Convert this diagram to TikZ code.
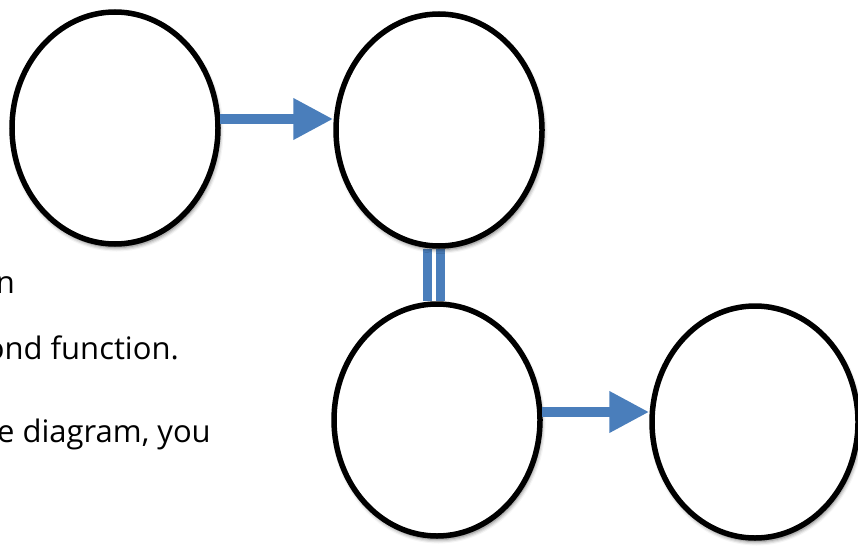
\documentclass[tikz,border=0pt]{standalone}
\usepackage{fontspec}
\setmainfont{Open Sans}
\usetikzlibrary{shapes.geometric,arrows.meta,backgrounds,shadows.blur}

\definecolor{flowblue}{HTML}{4A7EBB}

\tikzset{
  bubble/.style={ellipse, draw=black, line width=5.5pt, fill=white,
    minimum width=206pt, minimum height=232pt, inner sep=0pt,
    blur shadow={shadow xshift=1.5pt, shadow yshift=-3.5pt,
      shadow blur radius=4pt, shadow opacity=60}},
  flow/.style={draw=flowblue, line width=10pt,
    -{Triangle[length=40pt,width=39pt]}, shorten <=-1pt,
    preaction={draw=black!45, opacity=0.35,
      transform canvas={xshift=1.5pt,yshift=-3pt}}},
  link/.style={draw=flowblue, line width=9pt},
  note/.style={anchor=base east, inner sep=0pt, font=\fontsize{31}{37}\selectfont}
}

\begin{document}
\begin{tikzpicture}[x=1pt,y=-1pt]
  \clip (0,0) rectangle (858,546);

  % the four stages
  \node[bubble] (e1) at (115,128) {};
  \node[bubble] (e2) at (439,130) {};
  \node[bubble] (e3) at (437,420) {};
  \node[bubble] (e4) at (755,422) {};

  % double link between the second and third stage, kept behind the outlines
  \coordinate (mid) at (434,275);
  \begin{scope}[on background layer]
    \draw[link] ([xshift=-6.5pt]mid |- e2.south) -- ([xshift=-6.5pt]mid |- e3.north);
    \draw[link] ([xshift=6.5pt]mid |- e2.south) -- ([xshift=6.5pt]mid |- e3.north);
  \end{scope}

  % forward arrows, a little above the centre line
  \draw[flow] ([yshift=9pt]e1.east) -- ([yshift=11pt]e2.west);
  \draw[flow] ([yshift=8pt]e3.east) -- ([yshift=10pt]e4.west);

  % text running in from the left margin
  \node[note] (t1) at (15,293) {n};
  \node[note] (t2) at (179,359) {ond function.};
  \node[note] (t3) at (211,442) {e diagram, you};
\end{tikzpicture}
\end{document}
